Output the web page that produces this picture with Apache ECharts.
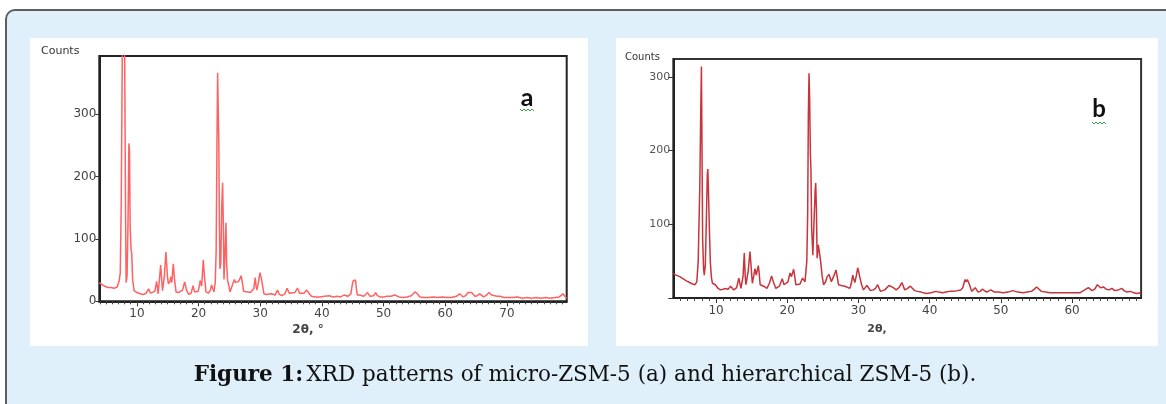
<!DOCTYPE html>
<html>
<head>
<meta charset="utf-8">
<script src="https://cdn.jsdelivr.net/npm/echarts@6/dist/echarts.min.js"></script>
<style>
  html, body { margin: 0; padding: 0; background: #ffffff; width: 1166px; height: 404px; overflow: hidden; }
  #outer { position: absolute; left: 5px; top: 9px; width: 1200px; height: 500px; box-sizing: border-box;
           border: 2px solid #5e5e5e; border-top-left-radius: 10px; background: #dff0fa; }
  .panel { position: absolute; background: #ffffff; }
  #chart { position: absolute; left: 0; top: 0; width: 1166px; height: 404px; }
</style>
</head>
<body>
<div id="outer"></div>
<div class="panel" style="left:30px;top:38px;width:558px;height:308px;"></div>
<div class="panel" style="left:616px;top:38px;width:542px;height:308px;"></div>
<div id="chart"></div>
<script>
// ---- Data: panel (a) micro-ZSM-5 ----
const twoThetaA = [3.9,4.3,4.8,5.3,5.8,6.3,6.8,7.1,7.3,7.45,7.65,7.85,8.0,8.15,8.25,8.4,8.55,8.7,8.8,8.9,9.05,9.15,9.3,9.55,
  10.0,10.5,11.0,11.5,11.9,12.2,12.5,12.9,13.2,13.45,13.85,14.15,14.45,14.7,14.95,15.1,15.35,15.5,15.65,15.9,16.1,16.35,16.7,17.0,17.4,17.74,18.05,18.4,18.8,19.1,19.35,19.6,19.95,
  20.27,20.5,20.76,20.95,21.2,21.6,21.9,22.1,22.3,22.5,22.7,22.85,22.98,23.09,23.2,23.28,23.38,23.46,23.6,23.75,23.9,24.02,24.12,24.3,24.44,24.55,24.7,24.9,25.1,25.4,25.8,26.0,26.2,26.5,26.9,27.1,27.3,27.6,28.0,28.4,28.7,28.95,29.18,29.32,29.45,29.7,29.95,
  30.15,30.3,30.6,31.0,31.3,31.8,32.4,32.8,33.1,33.5,34.0,34.36,34.7,35.0,35.6,36.05,36.4,36.7,37.1,37.5,37.9,38.3,39.0,39.7,40.4,41.2,41.8,42.5,43.0,43.6,44.2,44.7,44.9,45.07,45.3,45.45,45.6,45.75,46.1,46.4,46.8,47.4,47.8,48.0,48.4,48.7,49.0,49.4,
  50.0,50.6,51.2,51.8,52.5,53.2,53.8,54.5,55.07,55.4,55.9,56.6,57.3,58.0,58.8,59.5,60.3,61.0,61.8,62.35,62.9,63.3,63.7,64.3,64.8,65.2,65.6,66.2,66.6,67.1,67.5,67.8,68.4,68.9,69.5,
  70.2,71.0,71.7,72.5,73.3,74.0,74.8,75.5,76.3,77.0,77.8,78.5,79.1,79.4,79.7];
const countsA = [30,27,24,22,22,21,23,32,45,150,420,430,420,150,30,40,120,253,240,120,82,78,35,17,
  14,12,11,13,20,13,12,16,32,12,58,17,40,79,40,28,32,39,30,60,35,15,14,12,18,31,18,11,13,25,15,12,16,
  33,24,66,40,15,13,18,26,20,15,30,80,250,366,300,258,120,52,60,150,190,120,35,80,126,60,34,25,15,18,35,30,28,32,41,30,16,17,15,14,12,20,38,25,18,30,46,
  38,30,12,11,10,12,10,18,11,9,12,21,13,12,14,21,13,10,13,18,13,8,7,7,8,9,7,8,7,10,8,12,25,33,32,34,20,10,10,12,8,14,8,7,9,14,9,7,
  7,8,8,10,7,6,7,9,15,13,7,6,6,7,6,7,6,6,8,12,7,9,14,14,8,9,12,7,9,14,10,7,8,8,6,
  6,6,7,5,6,5,6,5,6,5,6,7,12,8,5];

// ---- Data: panel (b) hierarchical ZSM-5 ----
const twoThetaB = [4.0,4.4,4.9,5.4,5.9,6.3,6.7,7.05,7.3,7.5,7.65,7.72,7.85,7.95,8.05,8.12,8.25,8.35,8.5,8.65,8.78,8.85,8.95,9.05,9.2,9.35,9.5,9.9,
  10.3,10.6,11.0,11.3,11.7,12.05,12.5,12.9,13.2,13.5,13.8,13.97,14.1,14.2,14.5,14.77,14.95,15.1,15.3,15.47,15.65,15.94,16.05,16.2,16.7,17.15,17.5,17.8,18.05,18.4,18.9,19.3,19.55,19.7,
  20.1,20.4,20.6,20.9,21.05,21.2,21.8,22.15,22.5,22.75,22.87,22.97,23.06,23.15,23.25,23.33,23.43,23.6,23.75,23.92,24.0,24.1,24.2,24.37,24.55,24.7,24.9,25.1,25.4,25.6,25.87,26.2,26.55,26.85,27.0,27.2,27.6,28.1,28.8,29.0,29.2,29.35,29.5,29.7,29.9,
  30.05,30.2,30.45,30.7,31.2,31.7,32.1,32.4,32.7,33.1,33.7,34.3,34.9,35.3,35.7,36.1,36.5,36.9,37.3,37.6,37.9,38.3,38.8,39.5,
  40.2,40.9,41.3,41.8,42.3,42.8,43.4,43.9,44.4,44.65,44.97,45.15,45.3,45.6,45.9,46.4,46.8,47.1,47.4,48.0,48.6,49.1,49.7,
  50.3,51.0,51.7,52.4,53.1,53.7,54.3,54.7,55.03,55.3,55.7,56.3,56.9,57.6,58.4,59.2,60.0,60.6,61.1,61.6,62.3,62.8,63.2,63.55,64.0,64.4,64.8,65.2,65.6,66.0,66.5,67.0,67.3,67.7,68.2,68.7,69.1,69.6];
const countsB = [33,31,29,26,23,21,19,18,22,50,120,149,250,314,312,80,40,31,45,110,168,175,140,100,49,28,20,18,
  13,11,12,13,12,16,11,14,27,13,30,61,30,18,35,63,40,20,30,40,31,44,35,18,16,13,20,30,22,13,16,26,18,16,
  22,34,29,39,30,18,19,27,22,50,113,250,305,270,196,175,95,58,100,145,156,120,54,72,60,49,30,18,22,29,32,22,30,38,30,18,17,16,13,20,31,25,21,30,41,
  35,28,18,11,17,10,11,13,18,9,11,17,14,11,14,21,11,13,16,13,10,9,8,6,
  7,9,8,7,8,9,9,10,11,14,25,22,25,18,9,14,8,9,12,8,11,8,8,
  7,8,10,8,7,8,9,12,15,13,9,8,7,7,7,7,7,7,7,10,14,10,12,18,14,15,12,11,13,10,11,13,10,8,9,7,6,7];

// ---- Tick labels ----
const xTicksA = [10, 20, 30, 40, 50, 60, 70];
const yTicksA = [0, 100, 200, 300];
const xTicksB = [10, 20, 30, 40, 50, 60];
const yTicksB = [100, 200, 300];
const yTickMarksB = [0, 100, 200, 300];

function range(a, b) { const r = []; for (let i = a; i <= b; i++) r.push(i); return r; }
const minorA = range(4, 79);
const minorB = range(5, 69);

const pairsA = twoThetaA.map((x, i) => [x, countsA[i]]);
const pairsB = twoThetaB.map((x, i) => [x, countsB[i]]);

const FONT = 'DejaVu Sans';
const chart = echarts.init(document.getElementById('chart'), null, { renderer: 'canvas' });

function majorX(grid, min, max, ticks) {
  return {
    type: 'value', gridIndex: grid, min: min, max: max, position: 'bottom',
    axisLine: { show: true, onZero: false, lineStyle: { color: '#222', width: 2 } },
    axisTick: { show: true, customValues: ticks, length: 5, lineStyle: { color: '#333', width: 1 } },
    axisLabel: { customValues: ticks, margin: 7, color: '#444', fontSize: 12, fontFamily: FONT },
    splitLine: { show: false }
  };
}
function minorX(grid, min, max, ticks) {
  return {
    type: 'value', gridIndex: grid, min: min, max: max, position: 'bottom',
    axisLine: { show: false },
    axisTick: { show: true, customValues: ticks, length: 3, lineStyle: { color: '#444', width: 1 } },
    axisLabel: { show: false },
    splitLine: { show: false }
  };
}

const option = {
  backgroundColor: 'transparent',
  animation: false,
  grid: [
    { left: 99.3, top: 56, width: 467.4, height: 245.3, show: true, borderColor: '#222', borderWidth: 2, backgroundColor: 'transparent' },
    { left: 673.3, top: 59, width: 467.8, height: 239, show: true, borderColor: '#333', borderWidth: 2, backgroundColor: 'transparent' }
  ],
  xAxis: [
    majorX(0, 3.9, 79.7, xTicksA),
    minorX(0, 3.9, 79.7, minorA),
    majorX(1, 4.0, 69.7, xTicksB),
    minorX(1, 4.0, 69.7, minorB)
  ],
  yAxis: [
    {
      type: 'value', gridIndex: 0, min: 0, max: 393,
      axisLine: { show: true, lineStyle: { color: '#222', width: 2 } },
      axisTick: { show: true, customValues: yTicksA, length: 4, lineStyle: { color: '#333' } },
      axisLabel: { customValues: yTicksA, margin: 3, color: '#444', fontSize: 12, fontFamily: FONT },
      splitLine: { show: false }
    },
    {
      type: 'value', gridIndex: 1, min: 0, max: 324.3,
      axisLine: { show: true, lineStyle: { color: '#222', width: 2 } },
      axisTick: { show: true, customValues: yTickMarksB, length: 5, lineStyle: { color: '#333' } },
      axisLabel: { customValues: yTicksB, margin: 3, color: '#555', fontSize: 11, fontFamily: FONT },
      splitLine: { show: false }
    }
  ],
  series: [
    { type: 'line', xAxisIndex: 0, yAxisIndex: 0, data: pairsA, showSymbol: false, clip: true,
      lineStyle: { color: '#ff6262', width: 1.5 } },
    { type: 'line', xAxisIndex: 2, yAxisIndex: 1, data: pairsB, showSymbol: false, clip: true,
      lineStyle: { color: '#c8343b', width: 1.5 } }
  ],
  graphic: [
    { type: 'text', left: 41, top: 46, style: { text: 'Counts', fontSize: 11, fontFamily: FONT, fill: '#333' } },
    { type: 'text', x: 308, y: 330, style: { text: '2θ, °', fontSize: 12, fontFamily: FONT, fill: '#444', align: 'center', verticalAlign: 'middle', fontWeight: 'bold' } },
    { type: 'text', x: 527, y: 98, style: { text: 'a', fontSize: 25, fontFamily: 'Lato', fontWeight: 'bold', fill: '#111', align: 'center', verticalAlign: 'middle' } },
    { type: 'polyline', shape: { points: [[520,109],[522,111],[524,109],[526,111],[528,109],[530,111],[532,109],[534,111]] }, style: { stroke: '#3aa04a', lineWidth: 1, fill: null } },
    { type: 'text', left: 625, top: 52, style: { text: 'Counts', fontSize: 10, fontFamily: FONT, fill: '#333' } },
    { type: 'text', x: 877, y: 329, style: { text: '2θ,', fontSize: 11, fontFamily: FONT, fill: '#444', align: 'center', verticalAlign: 'middle', fontWeight: 'bold' } },
    { type: 'text', x: 1099, y: 109, style: { text: 'b', fontSize: 24, fontFamily: 'Lato', fontWeight: 'bold', fill: '#111', align: 'center', verticalAlign: 'middle' } },
    { type: 'polyline', shape: { points: [[1092,122],[1094,124],[1096,122],[1098,124],[1100,122],[1102,124],[1104,122],[1106,124]] }, style: { stroke: '#3aa04a', lineWidth: 1, fill: null } },
    { type: 'text', x: 585, y: 375, style: {
        text: '{b|Figure 1:} {r|XRD patterns of micro-ZSM-5 (a) and hierarchical ZSM-5 (b).}',
        align: 'center', verticalAlign: 'middle',
        rich: {
          b: { fontFamily: 'DejaVu Serif', fontSize: 21.5, fontWeight: 'bold', fill: '#111' },
          r: { fontFamily: 'DejaVu Serif', fontSize: 21.5, fill: '#111' }
        }
      } }
  ]
};
chart.setOption(option);
</script>
</body>
</html>
